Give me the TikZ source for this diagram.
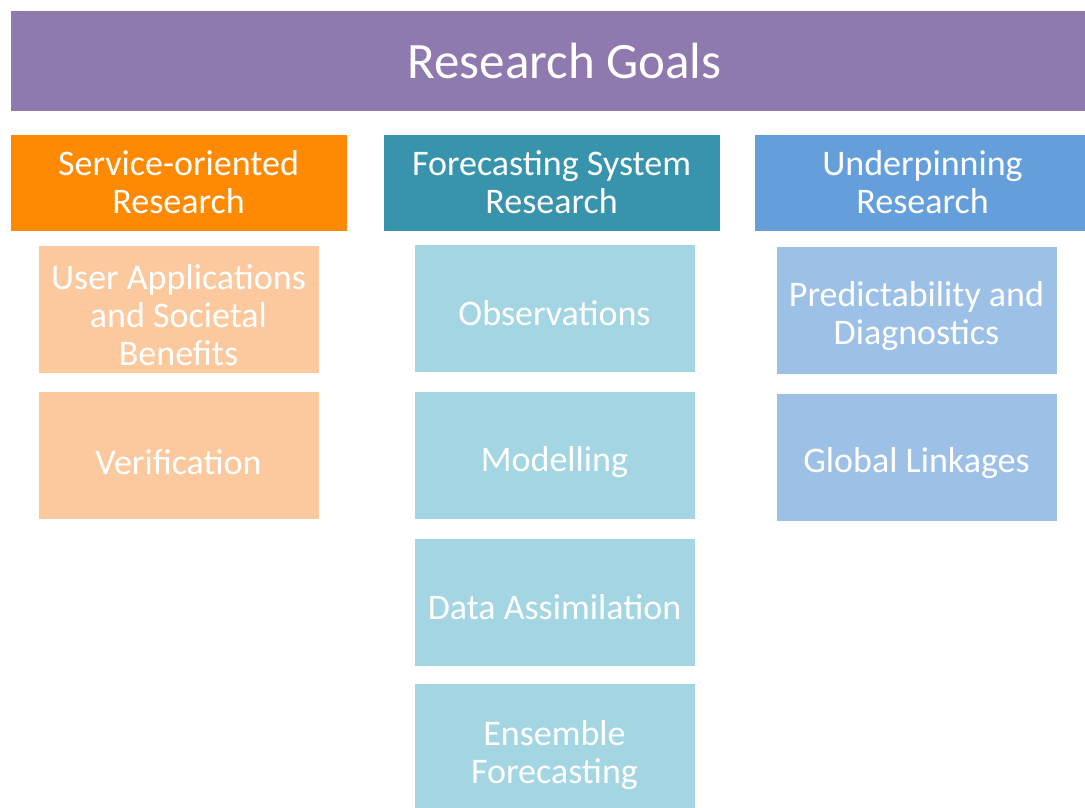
\documentclass[tikz,border=0pt]{standalone}
\usepackage{fontspec}
\setmainfont{Carlito}
\usetikzlibrary{positioning}
\definecolor{GoalPurple}{RGB}{143,122,175}
\definecolor{ServOrange}{RGB}{254,138,4}
\definecolor{ServLight}{RGB}{252,201,158}
\definecolor{FcstTeal}{RGB}{56,148,172}
\definecolor{FcstLight}{RGB}{163,214,226}
\definecolor{UndBlue}{RGB}{101,159,219}
\definecolor{UndLight}{RGB}{157,193,230}

\begin{document}
\begin{tikzpicture}[x=1pt,y=-1pt,
    panel/.style={draw=white,line width=0.6pt,text=white,align=center,
      inner sep=0pt,outer sep=0pt},
    goalbox/.style={panel,fill=GoalPurple,minimum width=1109pt,minimum height=101pt,
      font=\fontsize{51}{53}\selectfont},
    headbox/.style={panel,minimum width=337pt,minimum height=97pt,
      font=\fontsize{36}{38}\selectfont},
    subbox/.style={panel,minimum width=281pt,minimum height=128pt,
      text height=#1,text depth=128pt-#1,
      font=\fontsize{36}{38}\selectfont},
    subbox/.default=81pt]
  \useasboundingbox (0,0) rectangle (1085,808);
  \clip (0,0) rectangle (1085,808);
  \node[goalbox] (goals) at (564.5,60.5) {Research Goals};
  % three research streams
  \node[headbox,fill=ServOrange] (serv) at (178.5,182.5) {Service-oriented\\Research};
  \node[headbox,fill=FcstTeal] (fcst) at (551.5,182.5) {Forecasting System\\Research};
  \node[headbox,fill=UndBlue] (und) at (922.5,182.5) {Underpinning\\Research};
  % service-oriented topics (text height = last baseline)
  \node[subbox=120pt,fill=ServLight,below=14pt of serv] (users) {User Applications\\and Societal\\Benefits};
  \node[subbox=83pt,fill=ServLight,below=18pt of users] (verif) {Verification};
  % forecasting system topics
  \node[subbox,fill=FcstLight,below=13pt of fcst,xshift=3pt] (obs) {Observations};
  \node[subbox=80pt,fill=FcstLight,below=19pt of obs] (model) {Modelling};
  \node[subbox,fill=FcstLight,below=19pt of model] (assim) {Data Assimilation};
  \node[subbox=100pt,fill=FcstLight,below=17pt of assim] (ens) {Ensemble\\Forecasting};
  % underpinning topics
  \node[subbox=98pt,fill=UndLight,below=15pt of und,xshift=-6pt] (pred) {Predictability and\\Diagnostics};
  \node[subbox=79pt,fill=UndLight,below=19pt of pred] (links) {Global Linkages};
\end{tikzpicture}
\end{document}
